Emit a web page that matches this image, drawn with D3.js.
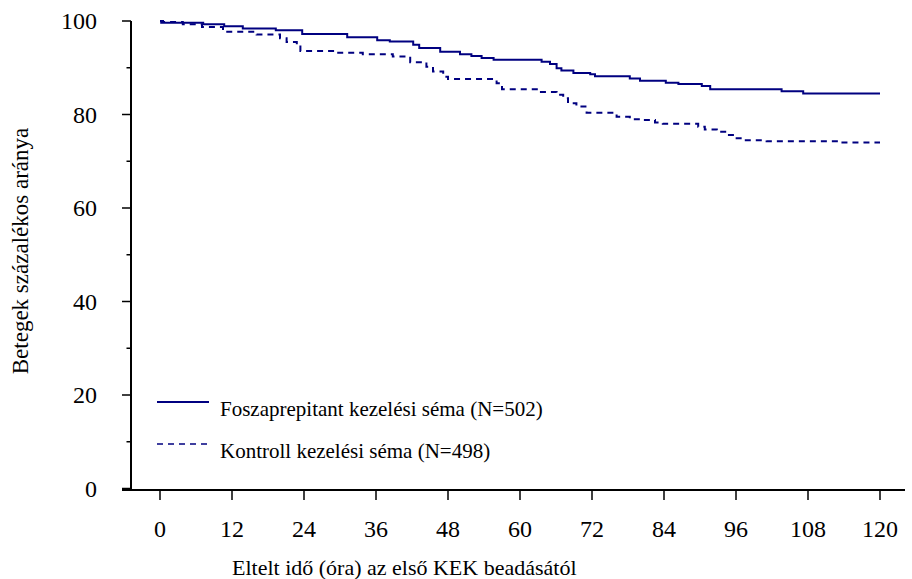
<!DOCTYPE html>
<html>
<head>
<meta charset="utf-8">
<script src="https://cdn.jsdelivr.net/npm/d3@7"></script>
<style>
  html, body { margin: 0; padding: 0; background: #fff; }
  svg { display: block; }
  text { font-family: "Liberation Serif", "Times New Roman", serif; fill: #000; }
</style>
</head>
<body>
<svg id="chart" width="912" height="579"></svg>
<script>
// ---- Data ----
const xTicks = [0, 12, 24, 36, 48, 60, 72, 84, 96, 108, 120];
const yTicks = [0, 20, 40, 60, 80, 100];
const yMinorTicks = [10, 30, 50, 70, 90];

const seriesNames = ["Foszaprepitant kezelési séma (N=502)", "Kontroll kezelési séma (N=498)"];

const fosTimes = [0, 0.2, 7.2, 10.7, 13.8, 19.3, 23.7, 31.2, 36.2, 38.3, 42.2, 43.2, 46.7, 50, 51.9, 53.6, 55.6, 63.6, 65, 66.1, 66.9, 68.9, 71.7, 72.5, 78.3, 80, 84.3, 86.4, 90.3, 91.7, 103.6, 107.2, 120];
const fosValues = [100, 99.6, 99.3, 98.9, 98.4, 98.0, 97.2, 96.5, 95.9, 95.6, 94.9, 94.2, 93.4, 92.9, 92.5, 92.1, 91.7, 91.3, 90.8, 89.9, 89.4, 88.9, 88.6, 88.2, 87.7, 87.2, 86.8, 86.5, 86.1, 85.4, 85.0, 84.5, 84.5];

const konTimes = [0, 0.5, 3.8, 7, 10.5, 16.1, 20, 21.1, 22.8, 23.4, 29.4, 33.8, 38.8, 41.7, 44.4, 45.5, 47.2, 48, 56.1, 57, 62.8, 66.1, 67.2, 68, 69.4, 71.1, 76.1, 78.3, 80, 82.5, 83.8, 89.7, 90.8, 92.8, 94.4, 95.8, 97.2, 101.1, 113.3, 120];
const konValues = [100, 99.8, 99.3, 98.7, 97.7, 97.1, 96.3, 95.5, 94.8, 93.6, 93.2, 92.9, 92.4, 91.2, 90.2, 89.2, 88.1, 87.6, 86.7, 85.4, 84.8, 84.2, 83.5, 82.4, 81.7, 80.4, 79.5, 79.0, 78.8, 78.3, 78.0, 77.4, 76.8, 76.3, 75.6, 74.9, 74.5, 74.3, 74.0, 74.0];

// ---- Chart ----
const svg = d3.select("#chart");
const color = "#000080";

const x = d3.scaleLinear().domain([0, 120]).range([160, 880]);
const y = d3.scaleLinear().domain([0, 100]).range([488.5, 21]);

const axisX = 131, axisY = 490;

// Y axis
const gy = svg.append("g").attr("transform", `translate(${axisX},0)`);
gy.append("line").attr("x1", 0).attr("x2", 0).attr("y1", y(100)).attr("y2", axisY)
  .attr("stroke", "#000").attr("stroke-width", 2);
gy.selectAll("line.major").data(yTicks).join("line").attr("class", "major")
  .attr("x1", -9).attr("x2", 0).attr("y1", d => y(d)).attr("y2", d => y(d))
  .attr("stroke", "#000").attr("stroke-width", 1.5);
gy.selectAll("line.minor").data(yMinorTicks).join("line").attr("class", "minor")
  .attr("x1", -4.5).attr("x2", 0).attr("y1", d => y(d)).attr("y2", d => y(d))
  .attr("stroke", "#000").attr("stroke-width", 1.5);
gy.selectAll("text").data(yTicks).join("text")
  .attr("x", -34).attr("y", d => y(d)).attr("dy", "0.35em")
  .attr("text-anchor", "end").attr("font-size", 24).text(d => d);

// X axis
const gx = svg.append("g").attr("transform", `translate(0,${axisY})`);
gx.append("line").attr("x1", 122).attr("x2", 905).attr("y1", 0).attr("y2", 0)
  .attr("stroke", "#000").attr("stroke-width", 2);
gx.selectAll("line.tick").data(xTicks).join("line").attr("class", "tick")
  .attr("x1", d => x(d)).attr("x2", d => x(d)).attr("y1", 0).attr("y2", 10)
  .attr("stroke", "#000").attr("stroke-width", 1.5);
gx.selectAll("text").data(xTicks).join("text")
  .attr("x", d => x(d)).attr("y", 39).attr("dy", "0.35em")
  .attr("text-anchor", "middle").attr("font-size", 24).text(d => d);

// Axis titles
svg.append("text").attr("x", 232).attr("y", 575).attr("font-size", 22)
  .text("Eltelt idő (óra) az első KEK beadásától");
svg.append("text").attr("transform", "translate(28,251) rotate(-90)")
  .attr("text-anchor", "middle").attr("font-size", 23)
  .text("Betegek százalékos aránya");

// Lines
const line = d3.line().x(d => x(d[0])).y(d => y(d[1])).curve(d3.curveStepAfter);
const fosData = fosTimes.map((t, i) => [t, fosValues[i]]);
const konData = konTimes.map((t, i) => [t, konValues[i]]);

svg.append("path").datum(konData).attr("d", line).attr("fill", "none")
  .attr("stroke", color).attr("stroke-width", 2).attr("stroke-dasharray", "6,5");
svg.append("path").datum(fosData).attr("d", line).attr("fill", "none")
  .attr("stroke", color).attr("stroke-width", 2);

// Legend
const legend = svg.append("g");
const legY = [402, 444];
legend.append("line").attr("x1", 157).attr("x2", 209).attr("y1", legY[0]).attr("y2", legY[0])
  .attr("stroke", color).attr("stroke-width", 2);
legend.append("line").attr("x1", 157).attr("x2", 209).attr("y1", legY[1]).attr("y2", legY[1])
  .attr("stroke", color).attr("stroke-width", 1.5).attr("stroke-dasharray", "6,5");
legend.selectAll("text").data(seriesNames).join("text")
  .attr("x", 220).attr("y", (d, i) => legY[i] + 13.5).attr("font-size", 21).text(d => d);
</script>
</body>
</html>
